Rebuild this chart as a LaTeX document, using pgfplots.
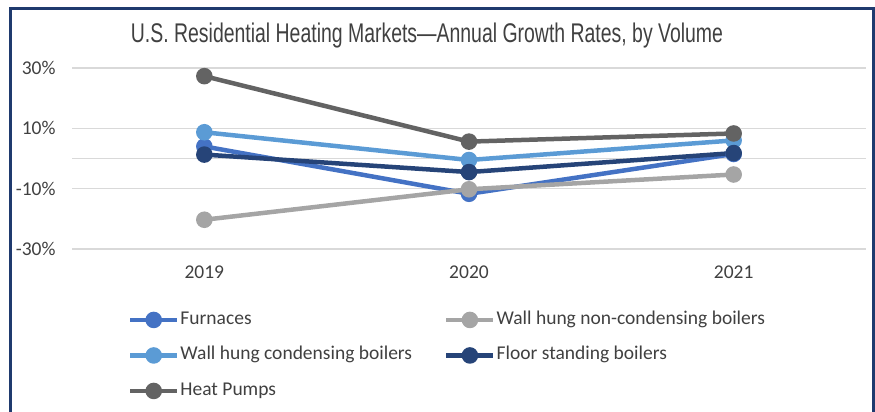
\documentclass[border=0pt]{standalone}
\usepackage{pgfplots}
\pgfplotsset{compat=1.18}
\usepackage{fontspec}
\setmainfont{Carlito}
\newfontfamily\titlefont[FakeStretch=0.72]{Liberation Sans}
\definecolor{frame}{HTML}{1F3A6E}
\definecolor{furn}{HTML}{4472C4}
\definecolor{noncond}{HTML}{A5A5A5}
\definecolor{cond}{HTML}{5B9BD5}
\definecolor{floor}{HTML}{264478}
\definecolor{hp}{HTML}{636363}
\definecolor{txt}{HTML}{404040}
\definecolor{gridc}{HTML}{D9D9D9}
\begin{document}
\begin{tikzpicture}[x=1pt,y=1pt]
\path[use as bounding box] (0pt,0pt) rectangle (875pt,-412pt);
\draw[frame, line width=3pt] (10pt,-412pt) -- (10pt,-9pt) -- (873pt,-9pt) -- (873pt,-412pt);
\node[anchor=base, text=txt, font=\titlefont\fontsize{27}{30}\selectfont, inner sep=0pt] at (427pt,-43pt) {U.S. Residential Heating Markets—Annual Growth Rates, by Volume};
\begin{axis}[
  at={(72pt,-249pt)}, anchor=south west,
  scale only axis, width=794pt, height=181pt,
  xmin=-0.5, xmax=2.5, ymin=-30, ymax=30,
  axis line style={draw=none},
  major tick length=0pt,
  xtick={0,1,2}, xticklabels={2019,2020,2021},
  ytick={-30,-10,10,30}, yticklabels={-30\%,-10\%,10\%,30\%},
  extra y ticks={0}, extra y tick labels={},
  extra y tick style={grid=major},
  ymajorgrids, grid style={gridc, line width=1.2pt},
  ticklabel style={font=\fontsize{19.5}{22}\selectfont, text=txt},
  xticklabel style={yshift=-13pt},
  yticklabel style={xshift=-13pt},
  every axis plot/.append style={line width=4.5pt, mark=*, mark size=6pt},
  legend columns=2,
  legend style={draw=none, fill=none, at={(0.0705,-0.345)}, anchor=north west,
    inner sep=0pt, outer sep=0pt,
    font=\fontsize{19.5}{22}\selectfont, text=txt,
    nodes={inner sep=0pt, text height=13pt, text depth=4pt, anchor=west},
    row sep=18.5pt,
    /tikz/every odd column/.append style={column sep=1pt},
    /tikz/every even column/.append style={column sep=32pt}},
  legend cell align=left,
  legend image code/.code={
    \draw[#1, mark=none] (0pt,0pt) -- (47pt,0pt);
    \draw[#1, only marks] plot coordinates {(23.5pt,0pt)};
  },
  clip=false,
]
\addplot[color=furn] coordinates {(0,4) (1,-11.7) (2,1.5)};
\addlegendentry{Furnaces}
\addplot[color=noncond] coordinates {(0,-20.3) (1,-10.2) (2,-5.3)};
\addlegendentry{Wall hung non-condensing boilers}
\addplot[color=cond] coordinates {(0,8.7) (1,-0.5) (2,6)};
\addlegendentry{Wall hung condensing boilers}
\addplot[color=floor] coordinates {(0,1.3) (1,-4.5) (2,1.8)};
\addlegendentry{Floor standing boilers}
\addplot[color=hp] coordinates {(0,27.3) (1,5.6) (2,8.3)};
\addlegendentry{Heat Pumps}
\end{axis}
\end{tikzpicture}
\end{document}
